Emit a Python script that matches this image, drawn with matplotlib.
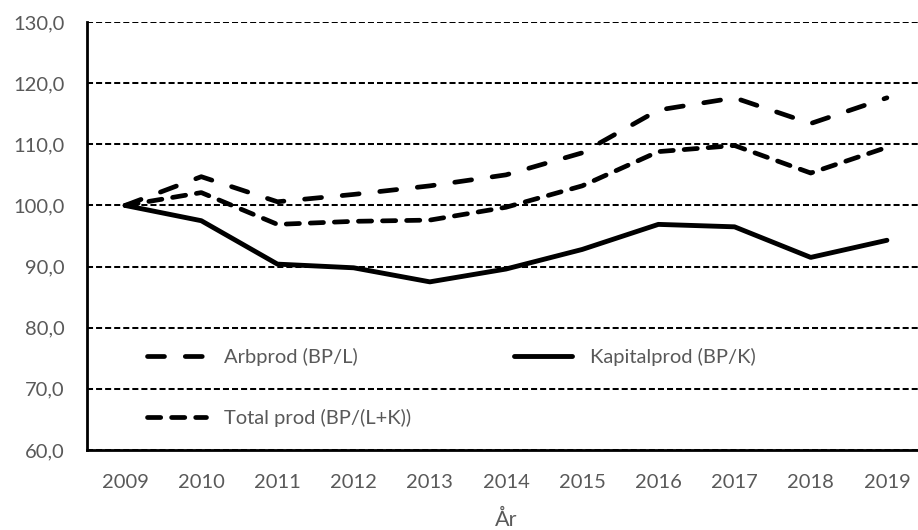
import numpy as np
import matplotlib
matplotlib.use("Agg")
import matplotlib.pyplot as plt
from matplotlib.ticker import FuncFormatter

plt.rcParams['font.family'] = ['Lato', 'DejaVu Sans']

# data
years = ['2009', '2010', '2011', '2012', '2013', '2014', '2015', '2016', '2017', '2018', '2019']
arbprod = [100.0, 104.7, 100.6, 101.8, 103.2, 105.0, 108.6, 115.6, 117.6, 113.4, 117.6]
kapitalprod = [100.0, 97.5, 90.4, 89.8, 87.5, 89.6, 92.8, 96.9, 96.5, 91.5, 94.3]
totalprod = [100.0, 102.1, 96.9, 97.4, 97.6, 99.7, 103.2, 108.8, 109.8, 105.3, 109.5]
yticks = [60, 70, 80, 90, 100, 110, 120, 130]

grey = '#595959'
fs = 14.5

fig = plt.figure(figsize=(9.18, 5.30), dpi=100)
ax = fig.add_axes([87 / 918, 80 / 530, 838 / 918, 428 / 530])

x = np.arange(len(years))
l1, = ax.plot(x, arbprod, color='black', lw=3.4, ls=(0, (3.6, 4.4)),
              dash_capstyle='round', label='Arbprod (BP/L)', zorder=3)
l2, = ax.plot(x, kapitalprod, color='black', lw=3.5, solid_capstyle='round',
              label='Kapitalprod (BP/K)', zorder=3)
l3, = ax.plot(x, totalprod, color='black', lw=3.4, ls=(0, (2.8, 2.3)),
              dash_capstyle='round', label='Total prod (BP/(L+K))', zorder=3)

ax.set_xlim(-0.5, len(years) - 0.5)
ax.set_ylim(60, 130)
ax.set_yticks(yticks)
ax.yaxis.set_major_formatter(FuncFormatter(lambda v, p: f"{v:.1f}".replace('.', ',')))
ax.set_xticks(x)
ax.set_xticklabels(years)
ax.tick_params(axis='both', length=0, labelsize=fs, labelcolor=grey)
ax.tick_params(axis='y', pad=16)
ax.tick_params(axis='x', pad=17)

ax.grid(axis='y', color='black', lw=1.45, ls=(0, (3, 1.5)))
ax.set_axisbelow(True)
for side in ['top', 'right']:
    ax.spines[side].set_visible(False)
ax.spines['left'].set_linewidth(2)
ax.spines['bottom'].set_linewidth(2)

ax.set_xlabel('År', fontsize=fs + 1, color=grey, labelpad=14)

ax.legend(handles=[l1, l3, l2], ncol=2, frameon=False, loc='upper left',
          bbox_to_anchor=(0.072, 0.238), borderaxespad=0, borderpad=0,
          fontsize=fs, labelcolor=grey, handlelength=2.9, handletextpad=0.9,
          columnspacing=5.1, labelspacing=2.1)

fig.savefig('out.png', dpi=100)
